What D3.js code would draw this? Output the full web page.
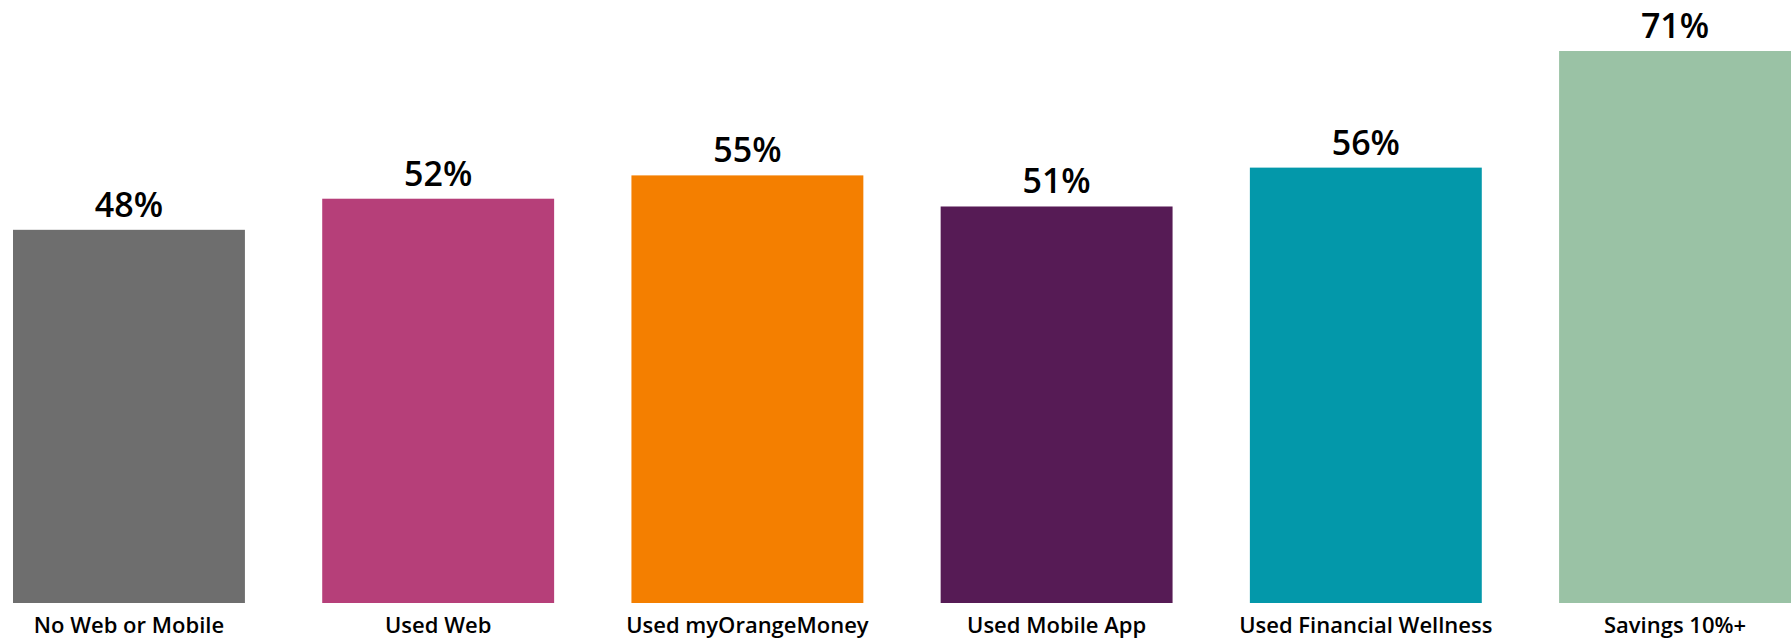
<!DOCTYPE html>
<html>
<head>
<meta charset="utf-8">
<script src="https://cdn.jsdelivr.net/npm/d3@7"></script>
<style>
  html, body { margin: 0; padding: 0; background: #fff; }
  svg { display: block; }
  text { font-family: "Open Sans", "DejaVu Sans", sans-serif; fill: #000; }
</style>
</head>
<body>
<svg id="chart" width="1792" height="640"></svg>
<script>
// Share of participants per engagement group
const categories = [
  "No Web or Mobile",
  "Used Web",
  "Used myOrangeMoney",
  "Used Mobile App",
  "Used Financial Wellness",
  "Savings 10%+"
];
const values = [48, 52, 55, 51, 56, 71];
const colors = ["#6e6e6e", "#b63f79", "#f47f00", "#561b55", "#0398aa", "#9ac2a5"];

const svg = d3.select("#chart");

const x = d3.scaleBand()
  .domain(categories)
  .range([13, 1791])
  .paddingInner(0.25)
  .paddingOuter(0);

const y = d3.scaleLinear()
  .domain([0, 71])
  .range([603, 51]);

const data = categories.map((c, i) => ({ cat: c, val: values[i], color: colors[i] }));

// Bars
svg.append("g")
  .selectAll("rect")
  .data(data)
  .join("rect")
  .attr("x", d => x(d.cat))
  .attr("y", d => y(d.val))
  .attr("width", x.bandwidth())
  .attr("height", d => y(0) - y(d.val))
  .attr("fill", d => d.color);

// Value labels above bars
svg.append("g")
  .selectAll("text")
  .data(data)
  .join("text")
  .attr("x", d => x(d.cat) + x.bandwidth() / 2)
  .attr("y", d => y(d.val) - 13)
  .attr("text-anchor", "middle")
  .style("font-size", "34px")
  .style("font-weight", 600)
  .text(d => d.val + "%");

// Category axis labels
const xAxis = d3.axisBottom(x).tickSize(0).tickPadding(0);
const gx = svg.append("g")
  .attr("transform", `translate(0, ${y(0)})`)
  .call(xAxis);
gx.select(".domain").remove();
gx.selectAll(".tick text")
  .attr("dy", null)
  .attr("y", 30)
  .style("font-family", "\"Open Sans\", sans-serif")
  .style("font-size", "22px")
  .style("font-weight", 600)
  .attr("fill", "#000");
</script>
</body>
</html>
